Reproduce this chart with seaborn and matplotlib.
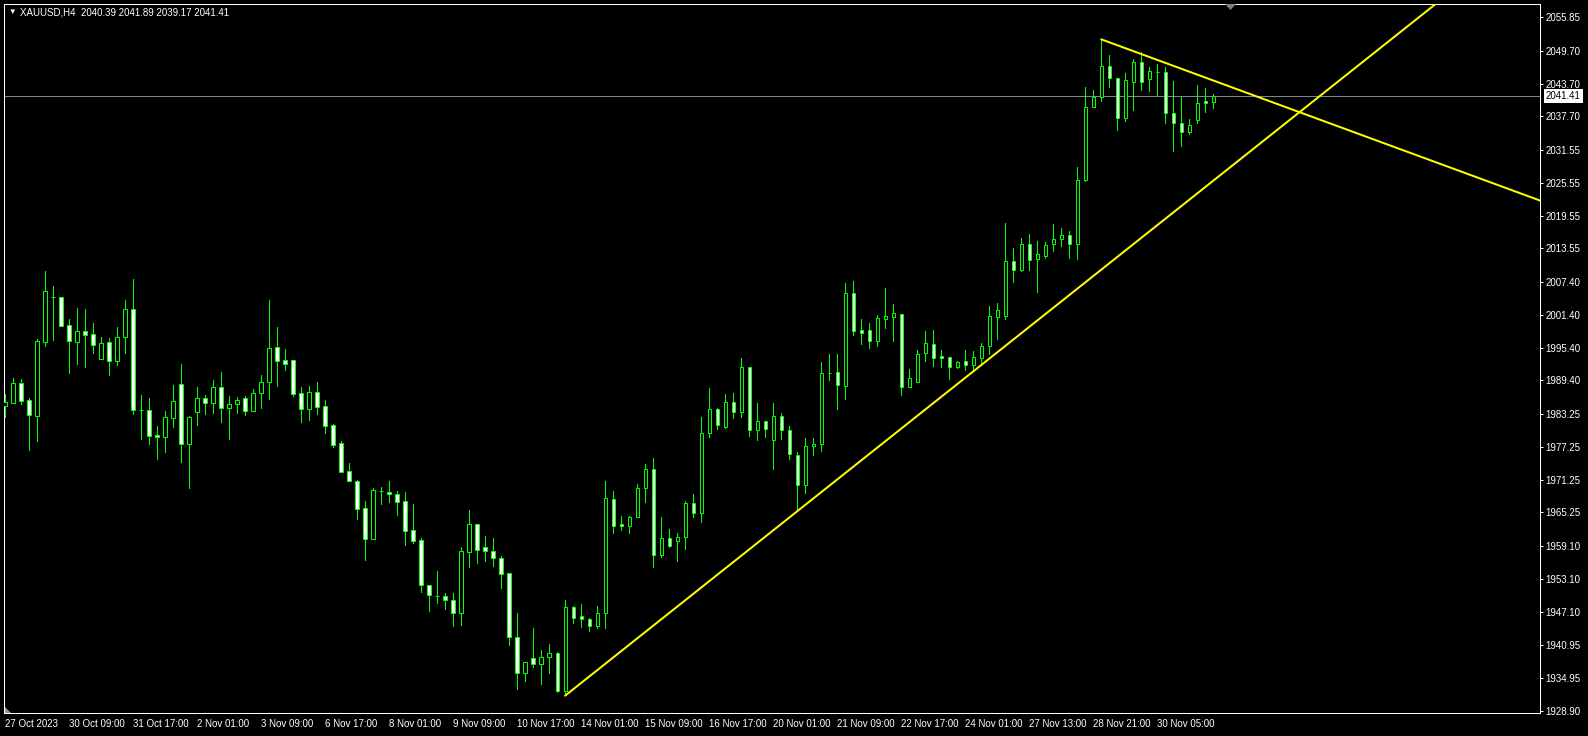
import numpy as np
import pandas as pd
import seaborn as sns
import matplotlib
matplotlib.use('Agg')
import matplotlib.pyplot as plt
from matplotlib import transforms
from matplotlib.patches import Polygon

# XAUUSD H4 candles (bar 0 = 27 Oct 2023)
opens = [1984.77, 1985.32, 1988.86, 1985.75, 1982.94, 1996.48, 2004.72, 2004.60, 1999.47, 1996.48,
         1998.37, 1997.83, 1993.37, 1996.36, 1992.88, 1997.40, 2002.40, 1983.98, 1983.92, 1979.34,
         1978.98, 1982.57, 1988.68, 1977.82, 1983.67, 1986.11, 1985.32, 1988.13, 1984.28, 1985.01,
         1986.11, 1983.73, 1987.03, 1989.04, 1995.45, 1993.07, 1993.07, 1987.03, 1984.22, 1987.21,
         1984.65, 1981.17, 1977.88, 1972.75, 1970.98, 1965.98, 1960.31, 1969.15, 1968.97, 1968.54,
         1967.32, 1961.96, 1960.13, 1951.89, 1949.88, 1949.88, 1949.15, 1946.89, 1958.05, 1963.06,
         1958.85, 1958.11, 1956.83, 1954.09, 1942.38, 1935.91, 1938.53, 1937.56, 1938.71, 1939.45,
         1932.61, 1947.87, 1946.22, 1945.67, 1944.51, 1946.77, 1967.63, 1963.06, 1962.69, 1964.34,
         1969.64, 1973.12, 1957.38, 1960.49, 1959.94, 1960.68, 1966.90, 1965.07, 1979.71, 1984.10,
         1980.87, 1985.38, 1983.55, 1991.79, 1980.26, 1981.90, 1978.43, 1982.82, 1980.26, 1975.68,
         1970.19, 1977.33, 1977.80, 1990.69, 1990.87, 1988.43, 2005.33, 1998.56, 1998.56, 1996.67,
         2000.69, 2001.06, 2001.49, 1988.25, 1989.16, 1994.35, 1996.00, 1993.86, 1993.74, 1991.92,
         1993.01, 1992.22, 1993.56, 1995.76, 2001.07, 2001.25, 2011.25, 2009.61, 2014.30, 2011.56,
         2012.23, 2014.43, 2015.22, 2015.95, 2014.43, 2026.02, 2039.38, 2041.21, 2046.88, 2044.68,
         2037.36, 2044.07, 2047.73, 2044.62, 2045.90, 2045.78, 2038.28, 2036.45, 2034.92, 2037.00,
         2040.54, 2040.39]
highs = [1986.91, 1989.90, 1989.65, 1986.17, 1996.91, 2009.42, 2006.67, 2004.60, 2000.57, 2002.58,
         2002.40, 1999.90, 1997.28, 1997.09, 1999.17, 2004.11, 2007.95, 1986.72, 1986.17, 1981.05,
         1983.79, 1988.55, 1992.40, 1982.88, 1988.19, 1986.66, 1989.47, 1990.93, 1986.54, 1986.42,
         1986.54, 1987.82, 1990.38, 2004.11, 1999.17, 1995.08, 1993.07, 1988.19, 1988.37, 1989.10,
         1985.81, 1981.36, 1978.24, 1974.28, 1971.11, 1967.32, 1969.64, 1969.82, 1970.98, 1969.15,
         1968.97, 1966.78, 1960.56, 1951.89, 1954.52, 1950.49, 1950.49, 1958.97, 1965.68, 1963.06,
         1960.92, 1960.56, 1957.26, 1954.09, 1946.83, 1937.80, 1944.02, 1940.00, 1941.15, 1939.69,
         1949.21, 1948.17, 1948.48, 1945.85, 1948.11, 1970.99, 1969.16, 1964.52, 1964.52, 1970.44,
         1974.10, 1975.13, 1964.40, 1962.20, 1961.47, 1967.26, 1968.61, 1982.70, 1987.94, 1984.28,
         1986.91, 1987.09, 1993.50, 1991.79, 1985.26, 1981.90, 1985.26, 1983.43, 1981.05, 1976.23,
         1978.85, 1978.80, 1992.76, 1994.23, 1994.23, 2007.22, 2007.59, 2000.57, 1999.90, 2001.30,
         2006.31, 2003.38, 2001.49, 1991.48, 1994.96, 1998.44, 1998.56, 1994.96, 1993.74, 1992.95,
         1994.96, 1994.78, 1996.31, 2003.08, 2003.57, 2018.21, 2013.63, 2015.46, 2016.19, 2014.91,
         2014.73, 2018.03, 2017.29, 2016.68, 2028.46, 2043.10, 2042.55, 2051.82, 2048.95, 2044.68,
         2045.66, 2048.16, 2049.44, 2046.76, 2047.25, 2046.82, 2044.20, 2041.33, 2037.24, 2043.46,
         2042.92, 2041.89]
lows = [1982.76, 1985.32, 1985.08, 1976.66, 1978.30, 1995.69, 1996.79, 1999.41, 1990.81, 1992.46,
        1991.91, 1994.47, 1993.37, 1990.38, 1992.27, 1994.47, 1983.31, 1978.67, 1977.76, 1975.01,
        1976.29, 1980.93, 1974.46, 1969.70, 1981.23, 1983.25, 1983.49, 1981.84, 1978.67, 1983.49,
        1983.12, 1983.73, 1984.40, 1986.05, 1988.43, 1991.30, 1986.54, 1981.84, 1982.15, 1983.25,
        1979.83, 1977.27, 1972.69, 1970.92, 1964.09, 1956.59, 1960.31, 1966.84, 1967.14, 1964.82,
        1959.33, 1959.70, 1950.73, 1947.26, 1948.72, 1947.62, 1944.51, 1944.69, 1955.25, 1955.98,
        1956.35, 1955.49, 1951.47, 1941.03, 1932.92, 1934.44, 1937.01, 1933.90, 1935.91, 1932.43,
        1931.82, 1945.00, 1944.27, 1943.59, 1944.14, 1944.14, 1961.53, 1962.08, 1961.53, 1964.34,
        1967.20, 1955.31, 1957.14, 1958.91, 1956.41, 1958.50, 1964.46, 1963.50, 1979.10, 1980.56,
        1980.68, 1982.58, 1982.76, 1979.28, 1978.55, 1978.98, 1973.24, 1978.73, 1974.95, 1965.68,
        1968.73, 1975.74, 1976.50, 1989.47, 1984.22, 1986.05, 1997.76, 1996.06, 1995.39, 1995.75,
        1999.05, 1996.67, 1986.72, 1988.25, 1989.16, 1993.01, 1992.03, 1991.91, 1989.60, 1991.61,
        1991.30, 1991.30, 1992.22, 1994.23, 1996.98, 2000.58, 2007.47, 2009.49, 2009.61, 2005.64,
        2011.86, 2013.08, 2014.06, 2011.86, 2011.62, 2025.80, 2039.38, 2040.60, 2043.04, 2035.29,
        2036.94, 2038.95, 2042.61, 2042.43, 2041.45, 2036.57, 2031.45, 2032.36, 2034.50, 2036.57,
        2038.58, 2039.17]
closes = [1985.38, 1988.86, 1985.69, 1983.00, 1996.61, 2005.70, 2004.72, 1999.41, 1996.54, 1998.37,
          1997.76, 1995.93, 1996.18, 1992.88, 1997.28, 2002.40, 1984.04, 1983.98, 1979.28, 1978.98,
          1982.70, 1985.56, 1977.82, 1982.70, 1986.11, 1985.32, 1988.13, 1984.28, 1985.01, 1985.75,
          1983.73, 1987.03, 1989.04, 1995.26, 1993.01, 1992.34, 1986.97, 1984.22, 1987.21, 1984.59,
          1981.11, 1977.63, 1972.69, 1970.92, 1965.92, 1960.31, 1969.28, 1969.15, 1968.54, 1967.20,
          1961.89, 1960.07, 1951.89, 1950.06, 1949.88, 1949.15, 1946.89, 1958.11, 1963.06, 1958.42,
          1958.24, 1956.96, 1954.03, 1942.50, 1935.79, 1937.80, 1937.43, 1938.72, 1939.45, 1932.61,
          1947.87, 1945.97, 1945.67, 1944.51, 1946.77, 1967.81, 1962.69, 1962.69, 1964.40, 1969.64,
          1973.12, 1957.38, 1960.49, 1959.15, 1960.68, 1966.90, 1965.07, 1979.71, 1984.10, 1981.17,
          1985.38, 1983.55, 1991.79, 1980.26, 1981.90, 1980.44, 1982.82, 1980.26, 1975.87, 1970.19,
          1977.33, 1977.70, 1990.69, 1990.69, 1988.61, 2005.33, 1998.50, 1998.13, 1996.67, 2000.75,
          2001.12, 2001.67, 1988.25, 1989.77, 1994.17, 1996.18, 1993.43, 1993.43, 1991.92, 1992.71,
          1992.22, 1993.62, 1995.70, 2001.19, 2002.29, 2011.25, 2009.61, 2014.30, 2011.38, 2012.47,
          2014.12, 2015.22, 2015.95, 2014.43, 2026.02, 2039.38, 2041.21, 2046.88, 2044.68, 2037.36,
          2044.32, 2047.73, 2044.07, 2045.97, 2045.90, 2038.28, 2036.45, 2034.80, 2036.08, 2040.11,
          2040.17, 2041.41]

date_labels = ['27 Oct 2023', '30 Oct 09:00', '31 Oct 17:00', '2 Nov 01:00', '3 Nov 09:00',
               '6 Nov 17:00', '8 Nov 01:00', '9 Nov 09:00', '10 Nov 17:00', '14 Nov 01:00',
               '15 Nov 09:00', '16 Nov 17:00', '20 Nov 01:00', '21 Nov 09:00', '22 Nov 17:00',
               '24 Nov 01:00', '27 Nov 13:00', '28 Nov 21:00', '30 Nov 05:00']
price_labels = [2055.85, 2049.70, 2043.70, 2037.70, 2031.55, 2025.55, 2019.55, 2013.55, 2007.40,
                2001.40, 1995.40, 1989.40, 1983.25, 1977.25, 1971.25, 1965.25, 1959.10, 1953.10,
                1947.10, 1940.95, 1934.95, 1928.90]
last_price = 2041.41
title = 'XAUUSD,H4  2040.39 2041.89 2039.17 2041.41'

# trend lines: two anchor points each (bar index, price), drawn as rays
up_bars, up_prices = [70, 174.34], [1931.69, 2053.10]
dn_bars, dn_prices = [137, 191.5], [2051.82, 2022.50]

df = pd.DataFrame({'open': opens, 'high': highs, 'low': lows, 'close': closes})
df['bar'] = np.arange(len(df))
bull = df['close'] >= df['open']

sns.set_style('dark', rc={'axes.facecolor': 'black', 'figure.facecolor': 'black',
                          'axes.edgecolor': 'white', 'axes.grid': False})
plt.rcParams['font.family'] = ['Liberation Sans', 'DejaVu Sans']

W, H = 1588, 736
px = 72 / 100  # one pixel in points
fig = plt.figure(figsize=(W / 100, H / 100), dpi=100)
ax = fig.add_axes([4 / W, 23.3 / H, 1536 / W, 708.4 / H])

green = '#00ff00'
ax.vlines(df['bar'], df['low'], df['high'], color=green, lw=px, antialiased=False, zorder=2)
body_lo = np.minimum(df['open'], df['close'])
body_h = np.maximum((df['close'] - df['open']).abs(), 0.02)
ax.bar(df['bar'], body_h, bottom=body_lo, width=0.4,
       color=np.where(bull, 'black', 'white'), edgecolor=green, lw=px, zorder=3)

# trend rays
for bx, py in [(up_bars, up_prices), (dn_bars, dn_prices)]:
    slope = (py[1] - py[0]) / (bx[1] - bx[0])
    xs = np.array([bx[0], 210])
    sns.lineplot(x=xs, y=py[0] + slope * (xs - bx[0]), ax=ax, color='#ffff00', lw=2 * px,
                 zorder=4)

ax.axhline(last_price, color='#778899', lw=px, zorder=1)

ax.set_xlim(-0.125, 191.84)
ax.set_ylim(1928.58, 2058.23)

ax.yaxis.tick_right()
ax.set_yticks(price_labels)
ax.set_yticklabels([f'{p:.2f}' for p in price_labels])
ax.tick_params(axis='y', colors='white', length=3 * px, width=px, pad=2, labelsize=7)
ax.set_xticks(np.arange(0, 8 * len(date_labels), 8))
ax.set_xticklabels(date_labels, ha='left')
ax.tick_params(axis='x', colors='white', length=4 * px, width=px, pad=1.5, labelsize=7)
for lab in ax.get_xticklabels():
    lab.set_x(lab.get_position()[0])
for s in ax.spines.values():
    s.set_color('white')
    s.set_linewidth(px)
ax.set_xlabel('')
ax.set_ylabel('')
legend = ax.get_legend()
if legend:
    legend.remove()

tr = transforms.blended_transform_factory(ax.transAxes, ax.transData)
ax.text(1.0039, last_price, f'{last_price:.2f}', transform=tr, color='black', size=7,
        va='center', ha='left', bbox=dict(boxstyle='square,pad=0.2', fc='white', ec='none'))

fig.text(8 / W, 1 - 12.5 / H, '\u25bc', color='white', size=5.5, va='center')
fig.text(20 / W, 1 - 12.5 / H, title, color='white', size=7, va='center')

# small grey markers of the terminal (chart shift)
fig.add_artist(Polygon([(1225 / W, 1 - 4 / H), (1236 / W, 1 - 4 / H), (1230.5 / W, 1 - 10 / H)],
                       closed=True, fc='#808080', ec='none', transform=fig.transFigure))
fig.add_artist(Polygon([(4.5 / W, 1 - 706.5 / H), (4.5 / W, 1 - 712.7 / H), (10.5 / W, 1 - 712.7 / H)],
                       closed=True, fc='#8898a8', ec='none', transform=fig.transFigure))

fig.savefig('out.png', dpi=100, facecolor='black')
